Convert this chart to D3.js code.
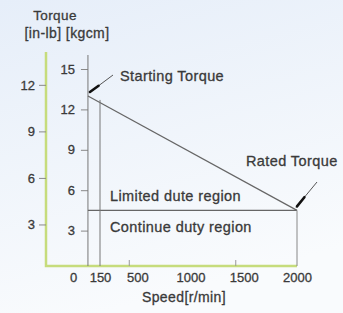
<!DOCTYPE html>
<html>
<head>
<meta charset="utf-8">
<script src="https://d3js.org/d3.v7.min.js"></script>
<style>
  body { margin: 0; padding: 0; background: #f4f7fb; }
  text { font-family: "Liberation Sans", Arial, sans-serif; fill: #3a3a3a; stroke: #3a3a3a; stroke-width: 0.3px; }
</style>
</head>
<body>
<svg id="chart"></svg>
<script>

// speed ticks shown on the bottom axis [r/min]
var speedTicks = [0, 150, 500, 1000, 1500, 2000];
// kgcm ticks (inner axis) and in-lb ticks (outer axis)
var kgcmTicks = [3, 6, 9, 12, 15];
var inlbTicks = [3, 6, 9, 12];

// torque curve: starting torque -> rated torque  [speed, kgcm]
var curveSpeed = [83, 2000];
var curveTorque = [13.0, 4.5];

// region boundaries
var ratedTorque = 4.5;
var minSpeed = 150;
var kgcmAxisSpeed = 83;
var kgcmPerInlb = 1.152;

var regionLabels = ["Limited dute region", "Continue duty region"];

var width = 343;
var height = 313;

var svg = d3.select("#chart")
            .attr("width", width)
            .attr("height", height);

// background gradient
var defs = svg.append("defs");
var grad = defs.append("linearGradient")
               .attr("id", "bg")
               .attr("x1", "0").attr("y1", "0")
               .attr("x2", "0.3").attr("y2", "1");
grad.append("stop").attr("offset", "0").attr("stop-color", "#e6eef9");
grad.append("stop").attr("offset", "1").attr("stop-color", "#f9fbfd");

svg.append("rect")
   .attr("width", width)
   .attr("height", height)
   .attr("fill", "url(#bg)");

// scales
var xScale = d3.scaleLinear()
               .domain([0, 150, 2000])
               .range([73, 100, 297]);

var yScale = d3.scaleLinear()
               .domain([0, 15])
               .range([271, 69]);

var yInlb = d3.scaleLinear()
              .domain([0, 15 / kgcmPerInlb])
              .range([271, 69]);

var bottomY = 266;
var outerX = 46;
var innerX = xScale(kgcmAxisSpeed);
var rightX = xScale(2000);

// outer (green) frame: left and bottom
svg.append("path")
   .attr("d", "M" + outerX + ",52 V" + bottomY + " H" + rightX)
   .attr("fill", "none")
   .attr("stroke", "#c6dc7c")
   .attr("stroke-width", 2.5);

// outer in-lb axis
var inlbAxis = d3.axisLeft(yInlb)
                 .tickValues(inlbTicks)
                 .tickSize(7)
                 .tickPadding(4);

var gIn = svg.append("g")
             .attr("transform", "translate(" + outerX + ",0)")
             .call(inlbAxis);
gIn.select(".domain").remove();
gIn.selectAll("line").attr("stroke", "#888");
gIn.selectAll("text")
   .attr("font-size", "13px")
   .attr("fill", "#3a3a3a");

// inner kgcm axis
var kgcmAxis = d3.axisLeft(yScale)
                 .tickValues(kgcmTicks)
                 .tickSize(7)
                 .tickPadding(6);

var gKg = svg.append("g")
             .attr("transform", "translate(" + innerX + ",0)")
             .call(kgcmAxis);
gKg.select(".domain").remove();
gKg.selectAll("line").attr("stroke", "#888");
gKg.selectAll("text")
   .attr("font-size", "13px")
   .attr("fill", "#3a3a3a");

svg.append("line")
   .attr("x1", innerX).attr("x2", innerX)
   .attr("y1", 55).attr("y2", bottomY)
   .attr("stroke", "#777")
   .attr("stroke-width", 1);

// speed axis labels
var xAxis = d3.axisBottom(xScale)
              .tickValues(speedTicks)
              .tickFormat(d3.format("d"))
              .tickSize(0)
              .tickPadding(7);

var gX = svg.append("g")
            .attr("transform", "translate(0," + bottomY + ")")
            .call(xAxis);
gX.select(".domain").remove();
gX.selectAll("text")
  .attr("font-size", "13px")
  .attr("fill", "#3a3a3a");

// little tick marks on the bottom line
svg.selectAll(".xtick")
   .data([500, 1500])
   .enter()
   .append("line")
   .attr("class", "xtick")
   .attr("x1", function(d){ return xScale(d) - 8; })
   .attr("x2", function(d){ return xScale(d) - 8; })
   .attr("y1", bottomY - 6)
   .attr("y2", bottomY)
   .attr("stroke", "#999");

// torque curve
var curve = curveSpeed.map(function(s, i){ return [xScale(s), yScale(curveTorque[i])]; });

svg.append("path")
   .attr("d", d3.line()(curve))
   .attr("fill", "none")
   .attr("stroke", "#666")
   .attr("stroke-width", 1.2);

// rated torque horizontal
svg.append("line")
   .attr("x1", innerX).attr("x2", rightX)
   .attr("y1", yScale(ratedTorque)).attr("y2", yScale(ratedTorque))
   .attr("stroke", "#666")
   .attr("stroke-width", 1.2);

// right vertical at max speed
svg.append("line")
   .attr("x1", rightX).attr("x2", rightX)
   .attr("y1", yScale(ratedTorque)).attr("y2", bottomY)
   .attr("stroke", "#888")
   .attr("stroke-width", 1);

// 150 r/min vertical
var slope = (curveTorque[1] - curveTorque[0]) / (curveSpeed[1] - curveSpeed[0]);
var t150 = curveTorque[0] + slope * (minSpeed - curveSpeed[0]);
svg.append("line")
   .attr("x1", xScale(minSpeed)).attr("x2", xScale(minSpeed))
   .attr("y1", yScale(t150)).attr("y2", bottomY)
   .attr("stroke", "#777")
   .attr("stroke-width", 1);

// leader lines with arrow heads
function leader(x0, y0, x1, y1){
    svg.append("line")
       .attr("x1", x0).attr("y1", y0)
       .attr("x2", x1).attr("y2", y1)
       .attr("stroke", "#555")
       .attr("stroke-width", 1);
    var k = 0.4;
    svg.append("line")
       .attr("x1", x0 + 1).attr("y1", y0 - 1)
       .attr("x2", x0 + (x1 - x0) * k).attr("y2", y0 + (y1 - y0) * k)
       .attr("stroke", "#111")
       .attr("stroke-width", 2.6)
       .attr("stroke-linecap", "round");
}
leader(curve[0][0] + 1, curve[0][1] - 3, 113, 75);
leader(curve[1][0] - 1, curve[1][1] - 3, 317, 182);

// annotations
function label(x, y, s, size, anchor){
    svg.append("text")
       .attr("x", x).attr("y", y)
       .attr("text-anchor", anchor || "start")
       .attr("font-size", size + "px")
       .attr("letter-spacing", "0.4px")
       .text(s);
}

label(120, 81, "Starting Torque", 14.5);
label(246, 166, "Rated Torque", 14.5);
label(110, 201, regionLabels[0], 14.5);
label(110, 232, regionLabels[1], 14.5);

// axis titles
label(55, 20, "Torque", 13.5, "middle");
label(67, 38, "[in-lb] [kgcm]", 14, "middle");
label(184, 302, "Speed[r/min]", 14, "middle");

</script>
</body>
</html>
